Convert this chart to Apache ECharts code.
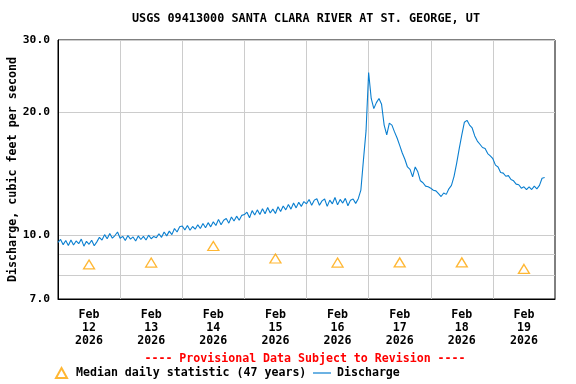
<!DOCTYPE html>
<html><head><meta charset="utf-8">
<script src="https://cdn.jsdelivr.net/npm/echarts@6/dist/echarts.min.js"></script>
<style>html,body{margin:0;padding:0;background:#fff}#c{width:576px;height:384px}</style>
</head><body><div id="c"></div>
<script>
const chartTitle = 'USGS 09413000 SANTA CLARA RIVER AT ST. GEORGE, UT';
const subtitle = '---- Provisional Data Subject to Revision ----';
const yAxisName = 'Discharge, cubic feet per second';
const seriesNames = ['Median daily statistic (47 years)', 'Discharge'];
const monthLabel = 'Feb';
const yearLabel = '2026';
const dayLabels = ['12', '13', '14', '15', '16', '17', '18', '19'];
const yTickLabels = [7, 10, 20, 30];
const yGridValues = [7, 8, 9, 10, 20, 30];
// median daily statistic, one per day (plotted at noon)
const medianValues = [8.50, 8.59, 9.43, 8.79, 8.59, 8.60, 8.60, 8.29];
// hourly discharge from Feb 12 00:00
const dischargeFeb12 = [9.62, 9.78, 9.50, 9.72, 9.45, 9.75, 9.48, 9.70, 9.55, 9.80, 9.42, 9.68, 9.52, 9.74, 9.44, 9.65, 9.90, 9.75, 10.05, 9.82, 10.12, 9.85, 10.00, 10.20];
const dischargeFeb13 = [9.85, 9.95, 9.72, 10.00, 9.80, 9.92, 9.70, 9.98, 9.78, 9.95, 9.75, 10.02, 9.82, 9.95, 9.88, 10.10, 9.90, 10.20, 9.98, 10.25, 10.05, 10.40, 10.20, 10.50];
const dischargeFeb14 = [10.55, 10.32, 10.58, 10.30, 10.52, 10.36, 10.62, 10.40, 10.70, 10.45, 10.75, 10.50, 10.80, 10.58, 10.95, 10.62, 10.90, 11.00, 10.72, 11.10, 10.85, 11.15, 10.90, 11.20];
const dischargeFeb15 = [11.25, 11.40, 11.05, 11.50, 11.22, 11.55, 11.25, 11.62, 11.30, 11.70, 11.35, 11.60, 11.32, 11.75, 11.45, 11.80, 11.55, 11.90, 11.60, 12.00, 11.68, 12.05, 11.78, 12.10];
const dischargeFeb16 = [11.95, 12.25, 11.85, 12.20, 12.30, 11.85, 12.15, 12.28, 11.78, 12.20, 11.95, 12.38, 11.88, 12.25, 12.00, 12.32, 11.82, 12.20, 12.28, 11.98, 12.30, 12.90, 15.30, 18.00];
const dischargeFeb17 = [25.00, 21.60, 20.40, 21.10, 21.60, 20.90, 18.60, 17.60, 18.80, 18.60, 17.90, 17.30, 16.60, 15.90, 15.35, 14.70, 14.50, 13.90, 14.70, 14.30, 13.60, 13.45, 13.20, 13.15];
const dischargeFeb18 = [13.05, 12.90, 12.85, 12.65, 12.45, 12.70, 12.60, 13.00, 13.25, 13.95, 15.00, 16.30, 17.60, 18.90, 19.10, 18.60, 18.30, 17.50, 17.00, 16.70, 16.40, 16.30, 15.85, 15.65];
const dischargeFeb19 = [15.40, 14.85, 14.70, 14.25, 14.20, 13.95, 14.00, 13.70, 13.60, 13.35, 13.30, 13.05, 13.15, 12.95, 13.15, 12.95, 13.20, 13.00, 13.25, 13.80, 13.85];

const discharge = [].concat(dischargeFeb12, dischargeFeb13, dischargeFeb14, dischargeFeb15,
  dischargeFeb16, dischargeFeb17, dischargeFeb18, dischargeFeb19);

const HOUR = 3600000, DAY = 24 * HOUR;
const t0 = new Date(2026, 1, 12, 0, 0, 0).getTime();
const dischargeData = discharge.map((v, i) => [t0 + i * HOUR, v]);
const medianData = medianValues.map((v, i) => [t0 + i * DAY + 12 * HOUR, v]);
const labelTimes = dayLabels.map((d, i) => t0 + i * DAY + 12 * HOUR);
const gridTimes = dayLabels.slice(1).map((d, i) => t0 + (i + 1) * DAY);

const FONT = 'DejaVu Sans Mono';
const txt = (size, color) => ({ fontFamily: FONT, fontWeight: 'bold', fontSize: size, color: color || '#000' });
const LINE_COLOR = '#0a7fd0';

const chart = echarts.init(document.getElementById('c'), null, { renderer: 'canvas' });
chart.setOption({
  animation: false,
  backgroundColor: '#fff',
  title: [
    { text: chartTitle, left: 306, top: 13, textAlign: 'center', padding: 0, textStyle: txt(11.8) },
    { text: subtitle, left: 305, top: 353, textAlign: 'center', padding: 0, textStyle: txt(11.6, '#ff0000') }
  ],
  legend: [
    { data: [seriesNames[0]], left: 55, top: 367, padding: 0, itemWidth: 11, itemHeight: 10,
      textStyle: Object.assign(txt(11.6), { padding: [0, 0, 0, 4] }) },
    { data: [{ name: seriesNames[1], icon: 'rect', itemStyle: { color: LINE_COLOR, borderWidth: 0 } }],
      left: 313, top: 367, padding: 0, itemWidth: 18, itemHeight: 1.2,
      textStyle: Object.assign(txt(11.6), { padding: [0, 0, 0, 1] }) }
  ],
  grid: { left: 58, right: 21, top: 40, bottom: 85, show: true, borderColor: '#000', borderWidth: 1,
          outerBoundsMode: 'none', containLabel: false },
  xAxis: {
    type: 'value', min: t0, max: t0 + 8 * DAY,
    axisLine: { show: true, lineStyle: { color: '#000', width: 1 } },
    axisTick: { show: false, customValues: gridTimes },
    splitLine: { show: true, lineStyle: { color: '#cccccc', width: 1 } },
    axisLabel: {
      customValues: labelTimes, margin: 9, lineHeight: 13, ...txt(11.6),
      formatter: (v) => {
        const idx = Math.round((v - t0 - 12 * HOUR) / DAY);
        return monthLabel + '\n' + dayLabels[idx] + '\n' + yearLabel;
      }
    }
  },
  yAxis: {
    type: 'log', logBase: 10, min: 7, max: 30,
    name: yAxisName, nameLocation: 'middle', nameGap: 39, nameMoveOverlap: false, nameTextStyle: txt(11.7),
    axisLine: { show: true, lineStyle: { color: '#000', width: 1 } },
    axisTick: { show: false, customValues: yGridValues },
    splitLine: { show: true, lineStyle: { color: '#cccccc', width: 1 } },
    axisLabel: { customValues: yTickLabels, margin: 8, ...txt(11.3), formatter: (v) => Number(v).toFixed(1) }
  },
  series: [
    { name: seriesNames[0], type: 'scatter', data: medianData, symbol: 'triangle', symbolSize: [11, 9],
      itemStyle: { color: 'transparent', borderColor: '#FFA500', borderWidth: 1.3 }, z: 3 },
    { name: seriesNames[1], type: 'line', data: dischargeData, symbol: 'none', showSymbol: false,
      lineStyle: { color: LINE_COLOR, width: 1.1 }, itemStyle: { color: LINE_COLOR }, z: 2 }
  ]
});
</script>
</body></html>
